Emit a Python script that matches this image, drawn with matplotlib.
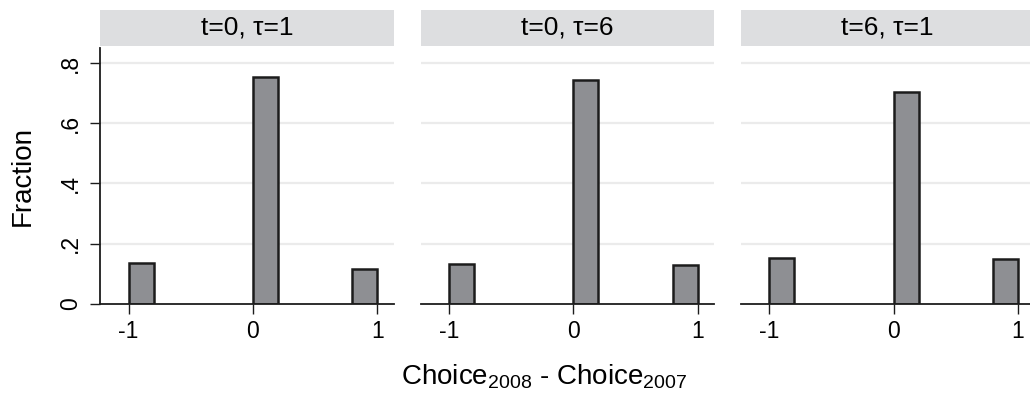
import matplotlib
matplotlib.use("Agg")
import matplotlib.pyplot as plt

plt.rcParams['font.family'] = ['Liberation Sans', 'DejaVu Sans']
plt.rcParams['mathtext.fontset'] = 'custom'
plt.rcParams['mathtext.rm'] = 'Liberation Sans'

panel_titles = ["t=0, \u03c4=1", "t=0, \u03c4=6", "t=6, \u03c4=1"]
bin_left = [-1.0, 0.0, 0.8]
bin_width = 0.2
fractions = [
    [0.136, 0.754, 0.114],
    [0.133, 0.743, 0.128],
    [0.153, 0.703, 0.150],
]
xticks = [-1, 0, 1]
xtick_labels = ["-1", "0", "1"]
yticks = [0, 0.2, 0.4, 0.6, 0.8]
ytick_labels = ["0", ".2", ".4", ".6", ".8"]

W, H = 1030, 399
fig = plt.figure(figsize=(W / 100, H / 100), dpi=100)

lefts = [100.3, 420.7, 741.0]
ax_w = 293.4
ax_bottom = 303.7
ax_top = 48.3
strip_top, strip_bot = 10, 46

for i, (title, vals) in enumerate(zip(panel_titles, fractions)):
    l = lefts[i]
    ax = fig.add_axes([l / W, 1 - ax_bottom / H, ax_w / W, (ax_bottom - ax_top) / H])
    ax.set_xlim(-1.228, 1.132)
    ax.set_ylim(0, 0.849)
    for y in yticks[1:]:
        ax.axhline(y, color='#ebebeb', lw=1.6, zorder=0)
    ax.bar(bin_left, vals, width=bin_width, align='edge', color='#8e8f93',
           edgecolor='#1c1c1c', linewidth=1.8, zorder=2)
    for s in ['top', 'right']:
        ax.spines[s].set_visible(False)
    ax.spines['bottom'].set_linewidth(1.3)
    ax.spines['bottom'].set_color('#1c1c1c')
    ax.set_xticks(xticks)
    ax.set_xticklabels(xtick_labels, fontsize=16.5)
    ax.tick_params(axis='x', length=7, width=1.0, pad=5, color='#1c1c1c')
    if i == 0:
        ax.spines['left'].set_linewidth(1.3)
        ax.spines['left'].set_color('#1c1c1c')
        ax.set_yticks(yticks)
        ax.set_yticklabels(ytick_labels, fontsize=16.5, rotation=90, va='center')
        ax.tick_params(axis='y', length=7, width=1.0, pad=6, color='#1c1c1c')
    else:
        ax.spines['left'].set_visible(False)
        ax.set_yticks([])
    sax = fig.add_axes([l / W, 1 - strip_bot / H, ax_w / W, (strip_bot - strip_top) / H])
    sax.set_facecolor('#dddee0')
    sax.set_xticks([])
    sax.set_yticks([])
    for s in sax.spines.values():
        s.set_visible(False)
    sax.text(0.5, 0.5, title, ha='center', va='center', fontsize=19,
             transform=sax.transAxes)

fig.text(23 / W, 1 - 176 / H, "Fraction", rotation=90, ha='center', va='center', fontsize=20)
fig.text(544 / W, 1 - 377 / H,
         r"Choice$_{\mathregular{2008}}$ - Choice$_{\mathregular{2007}}$",
         ha='center', va='center', fontsize=20)

fig.savefig("out.png", dpi=100)
